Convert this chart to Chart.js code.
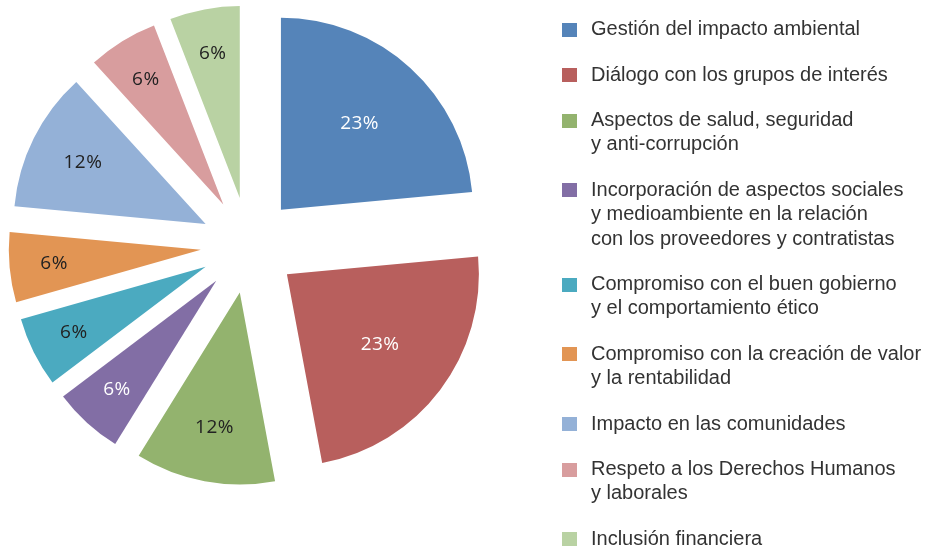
<!DOCTYPE html>
<html lang="es">
<head>
<meta charset="utf-8">
<title>Asuntos materiales</title>
<script src="https://cdn.jsdelivr.net/npm/chart.js@4/dist/chart.umd.min.js"></script>
<style>
    html, body { margin: 0; padding: 0; background: #ffffff; }
    #wrap { position: relative; width: 926px; height: 548px; overflow: hidden; }
    #chartBox { position: absolute; left: 0; top: 0; width: 926px; height: 548px; }
    #leyenda {
        position: absolute; left: 562px; top: 16.2px;
        margin: 0; padding: 0; list-style: none;
        font-family: "Liberation Sans", Arial, sans-serif;
        font-size: 20px; line-height: 24.3px; color: #333333;
    }
    #leyenda li { position: relative; padding-left: 29px; margin-bottom: 21.2px; white-space: nowrap; }
    #leyenda li span.caja { position: absolute; left: 0; top: 6.5px; width: 15px; height: 14px; }
</style>
</head>
<body>
<div id="wrap">
    <div id="chartBox"><canvas id="pieChart"></canvas></div>
    <ul id="leyenda"></ul>
</div>
<script>
// Categorías (cada una como lista de líneas para la leyenda)
const categorias = [
    ['Gestión del impacto ambiental'],
    ['Diálogo con los grupos de interés'],
    ['Aspectos de salud, seguridad', 'y anti-corrupción'],
    ['Incorporación de aspectos sociales', 'y medioambiente en la relación', 'con los proveedores y contratistas'],
    ['Compromiso con el buen gobierno', 'y el comportamiento ético'],
    ['Compromiso con la creación de valor', 'y la rentabilidad'],
    ['Impacto en las comunidades'],
    ['Respeto a los Derechos Humanos', 'y laborales'],
    ['Inclusión financiera']
];

const valores = [4, 4, 2, 1, 1, 1, 2, 1, 1];

// Etiquetas que aparecen dentro de cada sector
const etiquetas = ['23%', '23%', '12%', '6%', '6%', '6%', '12%', '6%', '6%'];

const colores = ['#5584B9', '#B85F5D', '#93B36E', '#826EA5', '#4BAAC0',
                 '#E29554', '#94B1D7', '#D89D9E', '#B9D2A3'];
const coloresTexto = ['#ffffff', '#ffffff', '#222222', '#ffffff', '#222222',
                      '#222222', '#222222', '#222222', '#222222'];

const SEPARACION = 48; // desplazamiento de cada sector hacia fuera

document.addEventListener('DOMContentLoaded', function() {
    initializeChart();
    initializeLegend();
});

// Dibuja los sectores separados y sus porcentajes
const explodedPlugin = {
    id: 'explodedPie',
    beforeDatasetDraw(chart, args) {
        const ctx = chart.ctx;
        const arcs = args.meta.data;

        arcs.forEach(arc => {
            const mid = (arc.startAngle + arc.endAngle) / 2;
            ctx.save();
            ctx.translate(Math.cos(mid) * SEPARACION, Math.sin(mid) * SEPARACION);
            arc.draw(ctx);
            ctx.restore();
        });

        ctx.save();
        ctx.font = '19px "Open Sans", sans-serif';
        ctx.letterSpacing = '0.5px';
        ctx.textAlign = 'center';
        ctx.textBaseline = 'middle';
        arcs.forEach((arc, i) => {
            const mid = (arc.startAngle + arc.endAngle) / 2;
            const deg = (arc.endAngle - arc.startAngle) * 180 / Math.PI;
            // sectores estrechos llevan la etiqueta más hacia fuera
            const r = SEPARACION + arc.outerRadius * (0.82 - 0.0025 * deg);
            ctx.fillStyle = coloresTexto[i];
            ctx.fillText(etiquetas[i], arc.x + Math.cos(mid) * r, arc.y + Math.sin(mid) * r);
        });
        ctx.restore();

        return false;
    }
};

function initializeChart() {
    const pieCtx = document.getElementById('pieChart');
    new Chart(pieCtx, {
        type: 'pie',
        data: {
            labels: categorias.map(c => c.join(' ')),
            datasets: [{
                data: valores,
                backgroundColor: colores,
                borderWidth: 0,
                clip: false
            }]
        },
        options: {
            responsive: true,
            maintainAspectRatio: false,
            animation: false,
            radius: 192,
            layout: {
                padding: { left: 56.6, right: 485.4, top: 53.3, bottom: 110.7 }
            },
            plugins: {
                legend: { display: false },
                tooltip: { enabled: false }
            },
            events: []
        },
        plugins: [explodedPlugin]
    });
}

function initializeLegend() {
    const lista = document.getElementById('leyenda');
    categorias.forEach((lineas, i) => {
        const li = document.createElement('li');
        const caja = document.createElement('span');
        caja.className = 'caja';
        caja.style.background = colores[i];
        li.appendChild(caja);
        lineas.forEach((linea, j) => {
            if (j > 0) li.appendChild(document.createElement('br'));
            li.appendChild(document.createTextNode(linea));
        });
        lista.appendChild(li);
    });
}
</script>
</body>
</html>
